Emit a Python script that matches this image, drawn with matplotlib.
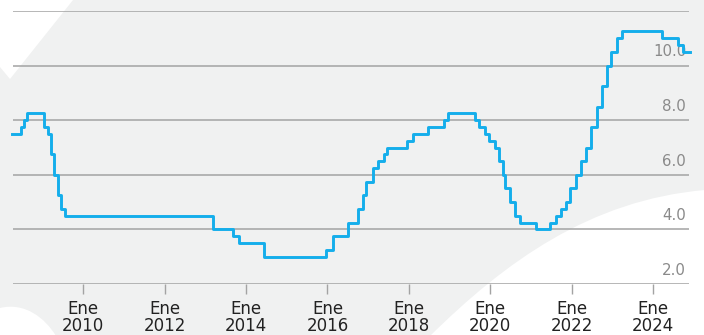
import matplotlib.pyplot as plt
import pandas as pd
from matplotlib.path import Path
from matplotlib.patches import PathPatch, Polygon

# Tasa objetivo (fechas de cambio y nivel vigente desde esa fecha)
fechas = ['2008-04-01', '2008-06-20', '2008-07-18', '2008-08-15',
          '2009-01-16', '2009-02-20', '2009-03-20', '2009-04-17',
          '2009-05-15', '2009-06-19', '2009-07-17', '2013-03-08',
          '2013-09-06', '2013-10-25', '2014-06-06', '2015-12-17',
          '2016-02-17', '2016-06-30', '2016-09-29', '2016-11-17',
          '2016-12-15', '2017-02-09', '2017-03-30', '2017-05-18',
          '2017-06-22', '2017-12-14', '2018-02-08', '2018-06-21',
          '2018-11-15', '2018-12-20', '2019-08-15', '2019-09-26',
          '2019-11-14', '2019-12-19', '2020-02-13', '2020-03-20',
          '2020-04-21', '2020-05-14', '2020-06-25', '2020-08-13',
          '2020-09-24', '2021-02-11', '2021-06-24', '2021-08-12',
          '2021-09-30', '2021-11-11', '2021-12-16', '2022-02-10',
          '2022-03-24', '2022-05-12', '2022-06-23', '2022-08-11',
          '2022-09-29', '2022-11-10', '2022-12-15', '2023-02-09',
          '2023-03-30', '2024-03-21', '2024-08-08', '2024-09-26',
          '2024-12-01']
tasa = [7.50, 7.75, 8.00, 8.25,
        7.75, 7.50, 6.75, 6.00,
        5.25, 4.75, 4.50, 4.00,
        3.75, 3.50, 3.00, 3.25,
        3.75, 4.25, 4.75, 5.25,
        5.75, 6.25, 6.50, 6.75,
        7.00, 7.25, 7.50, 7.75,
        8.00, 8.25, 8.00, 7.75,
        7.50, 7.25, 7.00, 6.50,
        6.00, 5.50, 5.00, 4.50,
        4.25, 4.00, 4.25, 4.50,
        4.75, 5.00, 5.50, 6.00,
        6.50, 7.00, 7.75, 8.50,
        9.25, 10.00, 10.50, 11.00,
        11.25, 11.00, 10.75, 10.50,
        10.50]

anios_tick = [2010, 2012, 2014, 2016, 2018, 2020, 2022, 2024]
niveles_y = [2, 4, 6, 8, 10, 12]

plt.rcParams['font.family'] = ['DejaVu Sans']

W, H = 704, 335
fig = plt.figure(figsize=(W / 100, H / 100), dpi=100)

# fondo gris con formas blancas
bg = fig.add_axes([0, 0, 1, 1])
bg.set_xlim(0, W)
bg.set_ylim(H, 0)
bg.axis('off')
bg.add_patch(plt.Rectangle((0, 0), W, H, color='#f0f1f1', zorder=0))
bg.add_patch(Polygon([(0, 0), (73, 0), (10, 79), (0, 67)], color='white', lw=0))
curva = Path([(430, 336), (505, 262), (590, 200), (705, 190), (705, 336), (430, 336)],
             [Path.MOVETO, Path.CURVE4, Path.CURVE4, Path.CURVE4, Path.LINETO, Path.CLOSEPOLY])
bg.add_patch(PathPatch(curva, color='white', lw=0))
curva2 = Path([(0, 308), (25, 302), (45, 318), (56, 336), (0, 336), (0, 308)],
              [Path.MOVETO, Path.CURVE4, Path.CURVE4, Path.CURVE4, Path.LINETO, Path.CLOSEPOLY])
bg.add_patch(PathPatch(curva2, color='white', lw=0))

ax = fig.add_axes([13 / W, 1 - 284 / H, 676 / W, 273 / H])
ax.patch.set_alpha(0)

x = pd.to_datetime(fechas)
ax.step(x, tasa, where='post', color='#14aeeb', lw=2.1, zorder=3, clip_on=False)

for v in niveles_y:
    ax.axhline(v, color='#a3a3a3', lw=1.1, zorder=1)
    if v < 12:
        ax.annotate(f'{v:.1f}', xy=(1, v), xycoords=('axes fraction', 'data'),
                    xytext=(-2, 4.5), textcoords='offset points',
                    ha='right', va='bottom', fontsize=10.8, color='#8a8a8a', zorder=2)

ax.set_xlim(pd.Timestamp('2008-04-10'), pd.Timestamp('2024-11-18'))
ax.set_ylim(2, 12)
ax.set_xticks(pd.to_datetime([f'{a}-01-01' for a in anios_tick]))
ax.set_xticklabels([f'Ene\n{a}' for a in anios_tick], fontsize=12, color='#222222',
                   linespacing=0.95)
ax.tick_params(axis='x', length=7.5, width=1, color='#a3a3a3', pad=4)
ax.set_yticks([])
for s in ax.spines.values():
    s.set_visible(False)

fig.savefig('out.png', dpi=100)
